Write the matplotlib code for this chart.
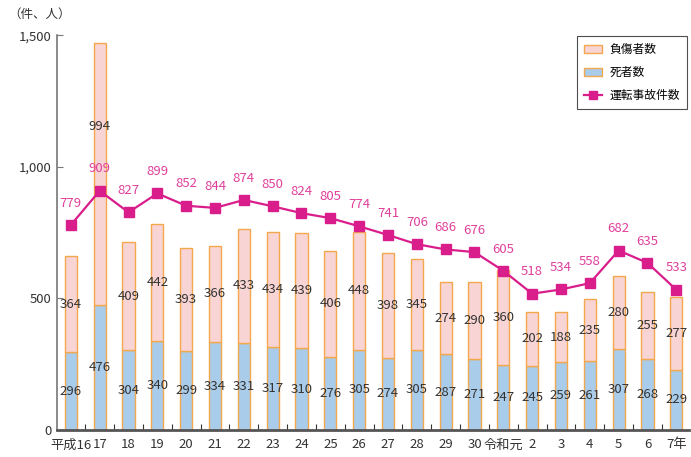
import matplotlib
matplotlib.use("Agg")
import matplotlib.pyplot as plt
import numpy as np
from matplotlib.patches import Patch
from matplotlib.lines import Line2D

plt.rcParams['font.family'] = ['Noto Sans CJK JP', 'DejaVu Sans']

years = ["平成16", "17", "18", "19", "20", "21", "22", "23", "24", "25", "26",
         "27", "28", "29", "30", "令和元", "2", "3", "4", "5", "6", "7年"]
deaths = [296, 476, 304, 340, 299, 334, 331, 317, 310, 276, 305,
          274, 305, 287, 271, 247, 245, 259, 261, 307, 268, 229]
injured = [364, 994, 409, 442, 393, 366, 433, 434, 439, 406, 448,
           398, 345, 274, 290, 360, 202, 188, 235, 280, 255, 277]
accidents = [779, 909, 827, 899, 852, 844, 874, 850, 824, 805, 774,
             741, 706, 686, 676, 605, 518, 534, 558, 682, 635, 533]

pink = "#F9D4D4"
blue = "#A9CCEA"
edge = "#F4A84E"
mag = "#D91E8C"
mag_txt = "#E0409C"
txt = "#333333"

fig = plt.figure(figsize=(6.91, 4.57), dpi=100)
ax = fig.add_axes([0.0825, 0.059, 0.915, 0.864])

x = np.arange(len(years))
w = 0.42
ax.bar(x, deaths, w, color=blue, edgecolor=edge, linewidth=1.0, zorder=2)
ax.bar(x, injured, w, bottom=deaths, color=pink, edgecolor=edge, linewidth=1.0, zorder=2)
ax.plot(x, accidents, color=mag, lw=1.6, marker='s', ms=7, zorder=4)

for i in range(len(x)):
    ax.text(x[i], deaths[i] / 2, str(deaths[i]), ha='center', va='center',
            fontsize=9.5, color=txt, zorder=5)
    ymid = deaths[i] + injured[i] / 2
    if injured[i] > 900:
        ymid = deaths[i] + injured[i] * 0.68
    ax.text(x[i], ymid, str(injured[i]), ha='center', va='center',
            fontsize=9.5, color=txt, zorder=5)
    ax.annotate(str(accidents[i]), (x[i], accidents[i]), xytext=(0, 11),
                textcoords='offset points', ha='center', va='bottom',
                fontsize=9.5, color=mag_txt, zorder=5)

ax.set_xlim(-0.48, len(x) - 1 + 0.45)
ax.set_ylim(0, 1500)
ax.set_yticks([0, 500, 1000, 1500])
ax.set_yticklabels(["0", "500", "1,000", "1,500"])
ax.set_xticks(x)
ax.set_xticklabels(years)
ax.set_xticks(x[:-1] + 0.5, minor=True)
ax.tick_params(axis='x', which='major', length=0, labelsize=9.5, colors=txt, pad=6)
ax.tick_params(axis='x', which='minor', length=4, direction='in', color='#333333', width=0.8)
ax.tick_params(axis='y', which='major', length=4, direction='in', labelsize=9.5,
               colors=txt, color='#777777', pad=4)

for s in ['top', 'right']:
    ax.spines[s].set_visible(False)
ax.spines['left'].set_color('#777777')
ax.spines['left'].set_linewidth(1.2)
ax.spines['bottom'].set_color('#555555')
ax.spines['bottom'].set_linewidth(2.0)

fig.text(0.012, 0.968, "（件、人）", fontsize=9, color=txt, ha='left', va='center')

handles = [Patch(facecolor=pink, edgecolor=edge, label="負傷者数"),
           Patch(facecolor=blue, edgecolor=edge, label="死者数"),
           Line2D([0], [0], color=mag, marker='s', ms=6, lw=1.6, label="運転事故件数")]
leg = fig.legend(handles=handles, loc='upper right', bbox_to_anchor=(0.994, 0.921),
                 fontsize=8.5, frameon=True, fancybox=False, edgecolor='#222222',
                 borderpad=0.6, labelspacing=0.85, handlelength=1.5, handletextpad=0.6,
                 borderaxespad=0.0)
leg.get_frame().set_linewidth(0.8)

fig.savefig("out.png", dpi=100)
